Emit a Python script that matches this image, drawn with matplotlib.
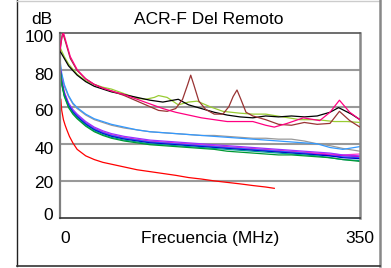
import matplotlib
matplotlib.use("Agg")
import matplotlib.pyplot as plt
from matplotlib.lines import Line2D

plt.rcParams['font.family'] = ['Liberation Sans', 'DejaVu Sans']

# curvas altas (con resonancias)
f_negro = [0, 5, 10, 20, 30, 40, 50, 60, 75, 90, 105, 120, 138, 150, 165, 180, 195, 210, 225, 240,
           255, 270, 285, 300, 315, 325, 340, 350]
db_negro = [90, 86, 82, 77, 73.5, 71, 69.5, 68, 66.5, 65, 63.5, 62.5, 64, 61, 59, 57, 55.5, 54.5, 54, 55,
            54.5, 55, 54.5, 55, 57, 59.5, 56, 53]

f_rosa = [0, 2, 4, 7, 12, 20, 30, 40, 50, 60, 75, 90, 105, 120, 135, 150, 165, 180, 195, 210, 225,
          240, 250, 265, 284, 303, 315, 326, 338, 350]
db_rosa = [91, 97, 100, 95, 87, 80, 75, 72, 70, 68.5, 66.5, 64, 61.5, 59, 57, 55.5, 54, 53, 52, 52, 52,
           50, 49, 51, 54, 52.5, 57, 63.5, 57, 53]

f_marron = [0, 3, 7, 12, 20, 30, 40, 50, 60, 75, 90, 105, 115, 125, 135, 143, 149, 152.5, 156, 162,
            170, 180, 190, 197, 202, 206.5, 211, 217, 225, 240, 255, 270, 285, 300, 315, 326, 338, 350]
db_marron = [90, 100, 94, 86, 79.5, 75, 72, 70, 68.5, 66, 63, 60, 58, 57.5, 59, 64, 72, 77, 72, 63,
             58.5, 56, 56, 60, 65.5, 69, 64, 57, 55, 53, 50.5, 50, 51.5, 50.5, 51, 57.5, 52.5, 49]

f_verde = [0, 5, 10, 20, 30, 40, 50, 60, 75, 90, 100, 110, 115, 125, 138, 150, 160, 175, 190, 210,
           225, 240, 260, 280, 300, 320, 335, 350]
db_verde = [92, 87, 83, 77.5, 74, 72, 70.5, 69.5, 67, 64.5, 64, 65, 66, 65, 61, 62.5, 63, 60, 57.5, 56.5,
            56, 56, 54.5, 53, 53, 52, 52, 51.5]

# curvas bajas
f_bajo = [0, 2, 5, 10, 15, 20, 30, 40, 50, 60, 75, 90, 105, 120, 135, 150, 165, 180, 195, 210, 225,
          240, 255, 270, 285, 300, 315, 330, 350]
db_azul = [85, 78, 72, 66, 62, 59.5, 56, 53.5, 52, 50.5, 49, 47.5, 46.5, 46, 45.5, 45, 44.5, 44, 43.5, 43,
           42.5, 42, 41.5, 41, 40.5, 40, 38, 37, 38.5]
db_gris = [83, 77, 71, 65.5, 61.5, 59, 55.5, 53, 51.5, 50, 48.5, 47.5, 46.5, 46, 45.5, 45, 44.5, 44.5, 44,
           43.5, 43, 43, 42.5, 42.5, 41.5, 40, 39, 37.5, 36]
db_magenta = [82, 74, 67.5, 61.5, 58, 55.5, 51.5, 48.5, 46.5, 45, 43.5, 42.5, 41.5, 41, 40.5, 40, 39.5, 39,
              38.5, 38, 37.5, 37, 36.5, 36, 35.5, 35, 34.5, 34, 34.5]
db_purpura = [82.5, 74.5, 68, 62, 58.5, 56, 52, 49, 47, 45.5, 44, 43, 42, 41.5, 41, 40.5, 40, 39.5, 39,
              38.5, 38, 37.5, 37, 36.5, 36, 35.5, 35, 34, 33.5]
db_violeta = [82, 73.5, 67, 61, 57.5, 55, 51, 48, 46, 44.5, 43, 42, 41, 40.5, 40, 39.5, 39, 38.5, 38,
              37.5, 37, 36.5, 36, 35.5, 35, 34.5, 34, 33.5, 33]
db_azul_osc = [81.5, 73, 66.5, 60.5, 57, 54.5, 50.5, 47.5, 45.5, 44, 42.5, 41.5, 40.5, 40, 39.5, 39, 38.5,
               38, 37.5, 37, 36.5, 36, 35.5, 35, 34.5, 34, 33.5, 32.5, 32]
db_turquesa = [81, 72.5, 66, 60, 56.5, 54, 50, 47, 45, 43.5, 42, 41, 40, 39.5, 39, 38.5, 38, 37.5, 37,
               36.5, 36, 35.5, 35, 34.5, 34, 33.5, 32.5, 31.5, 31]
db_verde_osc = [80.5, 72, 65.5, 59.5, 56, 53.5, 49.5, 46.5, 44.5, 43, 41.5, 40.5, 39.5, 39, 38.5, 38, 37.5,
                37, 36, 35.5, 35, 34.5, 34, 34, 33.5, 33, 32.5, 31.5, 30.5]
db_azul2 = [81.5, 73, 66.5, 61, 57.5, 55, 51, 48, 46, 44.5, 43, 42, 41, 40.5, 40, 39.5, 39, 38.5, 38,
            37.5, 37, 36.5, 36, 35.5, 35, 34, 33.5, 33, 32.5]

f_rojo = [1, 2, 4, 6, 8, 11, 15, 20, 30, 40, 50, 60, 75, 90, 105, 120, 135, 150, 165, 180, 195, 210,
          225, 240, 250]
db_rojo = [64, 58, 53, 50, 47.5, 44, 40.5, 37, 33.5, 31.5, 30, 29, 27.5, 26, 25, 24, 23, 21.8, 21, 20,
           19.2, 18.4, 17.5, 16.7, 16]

y_ticks = ['100', '80', '60', '40', '20', '0']
y_tick_px = [37.5, 76, 112, 149.5, 183, 216]   # donde aparecen los textos en la imagen

fs = 12.5

fig = plt.figure(figsize=(3.91, 2.68), dpi=100)
ax = fig.add_axes([60 / 391, 1 - 218 / 268, 300 / 391, 185.5 / 268])

for y in [20, 40, 60, 80]:
    ax.axhline(y, color='#999999', lw=1.5, zorder=1)

bajas = [
    (db_gris, '#999999'), (db_azul, '#3399FF'), (db_magenta, '#FF33CC'), (db_purpura, '#9933FF'),
    (db_violeta, '#CC00CC'), (db_azul2, '#3366FF'), (db_azul_osc, '#0000CC'),
    (db_turquesa, '#009999'), (db_verde_osc, '#009933'),
]
for vals, c in bajas:
    ax.plot(f_bajo, vals, color=c, lw=0.9, zorder=2)

ax.plot(f_rojo, db_rojo, color='#FF0000', lw=0.9, zorder=2)
ax.plot(f_verde, db_verde, color='#99CC33', lw=0.9, zorder=3)
ax.plot(f_negro, db_negro, color='#000000', lw=0.9, zorder=3)
ax.plot(f_marron, db_marron, color='#993333', lw=0.9, zorder=3)
ax.plot(f_rosa, db_rosa, color='#FF0080', lw=0.9, zorder=3)

ax.set_xlim(0, 350)
ax.set_ylim(0, 100)
ax.set_yticks([])
ax.set_xticks([0, 350])
ax.set_xticklabels(['0', '350'])
ax.get_xticklabels()[0].set_ha('left')
ax.tick_params(length=0, labelsize=fs)
ax.tick_params(axis='x', pad=9.5)

for lab, py in zip(y_ticks, y_tick_px):
    fig.text(53.5 / 391, 1 - py / 268, lab, ha='right', va='center', fontsize=fs)

ax.spines['left'].set_color('#808080')
ax.spines['left'].set_linewidth(1.6)
ax.spines['bottom'].set_color('#333333')
ax.spines['bottom'].set_linewidth(1.2)
ax.spines['top'].set_color('#555555')
ax.spines['top'].set_linewidth(1.2)
ax.spines['right'].set_color('#888888')
ax.spines['right'].set_linewidth(1.8)

fig.text(209 / 391, 1 - 20 / 268, 'ACR-F Del Remoto', ha='center', va='center', fontsize=fs)
fig.text(42 / 391, 1 - 20 / 268, 'dB', ha='center', va='center', fontsize=fs)
fig.text(210 / 391, 1 - 239 / 268, 'Frecuencia (MHz)', ha='center', va='center', fontsize=fs)

# marco exterior
fig.add_artist(Line2D([17.3 / 391, 17.3 / 391], [1 - 265.5 / 268, 1], color='#222222', lw=1.0))
fig.add_artist(Line2D([17.3 / 391, 380 / 391], [1 - 0.6 / 268, 1 - 0.6 / 268], color='#cccccc', lw=1.0))
fig.add_artist(Line2D([380 / 391, 380 / 391], [1 - 266 / 268, 1], color='#888888', lw=1.8))
fig.add_artist(Line2D([17.3 / 391, 380 / 391], [1 - 265.5 / 268, 1 - 265.5 / 268], color='#333333', lw=1.2))

fig.savefig('out.png', dpi=100)
